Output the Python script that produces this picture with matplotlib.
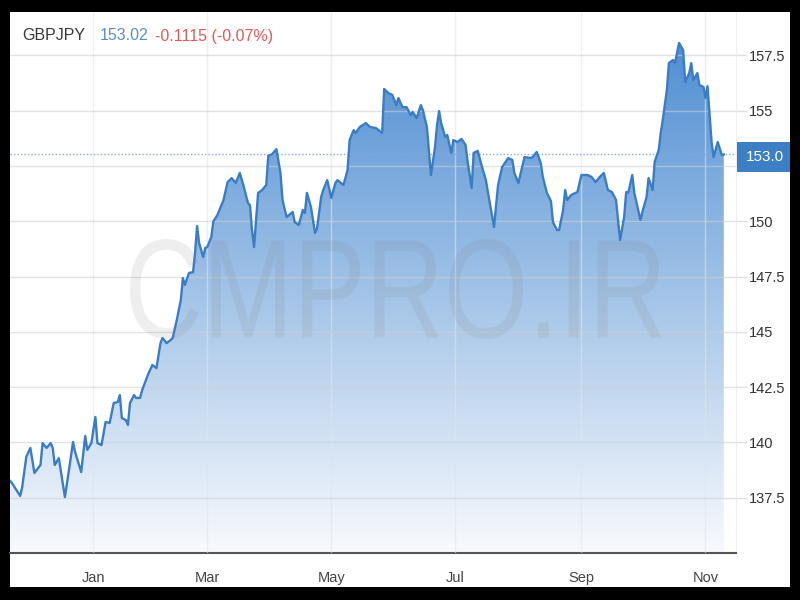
import numpy as np
import pandas as pd
import matplotlib
matplotlib.use('Agg')
import matplotlib.pyplot as plt
import matplotlib.dates as mdates
from matplotlib.patches import Rectangle, Polygon, PathPatch
from matplotlib.textpath import TextPath
from matplotlib.font_manager import FontProperties
from matplotlib.transforms import Affine2D, IdentityTransform

plt.rcParams['font.family'] = ['Liberation Sans', 'DejaVu Sans']

# data (days counted from start)
symbol = 'GBPJPY'
start = pd.Timestamp('2020-11-24')
last_price = 153.02
change = -0.1115
change_pct = -0.07

day_offsets = [
    0, 1, 5, 6, 8, 10, 12, 15, 16, 18, 20, 21, 22, 24, 27, 29, 31, 32, 35, 37,
    38, 40, 42, 43, 45, 47, 49, 51, 53, 54, 55, 57, 58, 59, 61, 62, 64, 65, 68, 70,
    72, 74, 75, 77, 79, 80, 82, 84, 85, 86, 88, 90, 91, 92, 93, 95, 96, 97, 99, 100,
    102, 105, 107, 109, 111, 113, 115, 117, 118, 119, 120, 122, 124, 126, 127, 129, 131, 133, 134, 136,
    139, 140, 142, 144, 145, 146, 148, 150, 151, 153, 154, 156, 158, 160, 161, 164, 166, 167, 169, 170,
    172, 175, 177, 180, 183, 184, 186, 188, 190, 191, 193, 195, 197, 198, 200, 202, 203, 205, 207, 209,
    210, 211, 212, 214, 215, 217, 218, 220, 222, 224, 225, 227, 228, 230, 232, 234, 235, 238, 240, 242,
    245, 247, 248, 250, 253, 256, 257, 259, 261, 262, 264, 266, 267, 269, 270, 272, 273, 274, 276, 279,
    281, 284, 286, 288, 290, 292, 294, 296, 298, 299, 300, 302, 303, 304, 306, 307, 310, 311, 313, 314,
    316, 317, 319, 320, 321, 323, 324, 326, 327, 329, 331, 332, 334, 335, 336, 338, 339, 341, 342, 343,
    345, 346, 348, 350, 351,
]
closes = [
    138.26, 138.16, 137.58, 137.98, 139.34, 139.75, 138.62, 138.98, 139.97, 139.75,
    139.97, 139.75, 138.98, 139.29, 137.53, 138.75, 140.02, 139.57, 138.66, 140.29,
    139.66, 139.97, 141.15, 139.97, 139.88, 140.92, 140.88, 141.78, 141.83, 142.14,
    141.10, 141.01, 140.79, 141.78, 142.14, 142.01, 142.01, 142.37, 143.10, 143.50,
    143.36, 144.49, 144.72, 144.49, 144.63, 144.72, 145.53, 146.44, 147.43, 147.12,
    147.66, 147.70, 148.56, 149.78, 149.02, 148.38, 148.79, 148.83, 149.29, 150.00,
    150.28, 150.96, 151.77, 151.95, 151.73, 152.18, 151.55, 150.82, 150.73, 149.60,
    148.83, 151.28, 151.41, 151.64, 152.95, 153.04, 153.26, 152.18, 150.96, 150.19,
    150.42, 149.96, 149.83, 150.51, 150.37, 151.28, 150.64, 149.47, 149.69, 151.09,
    151.41, 151.86, 151.05, 151.73, 151.86, 151.64, 152.32, 153.67, 154.12, 153.99,
    154.26, 154.44, 154.26, 154.21, 153.99, 155.98, 155.80, 155.71, 155.25, 155.57,
    155.16, 155.16, 154.80, 154.94, 154.67, 155.25, 155.03, 154.26, 152.09, 153.36,
    154.35, 154.98, 154.44, 153.81, 153.90, 153.09, 153.67, 153.58, 153.72, 153.45,
    152.72, 151.50, 153.09, 153.18, 152.49, 151.86, 151.32, 149.74, 151.64, 152.45,
    152.86, 152.77, 152.18, 151.73, 152.90, 152.86, 152.90, 153.13, 152.63, 152.00,
    151.28, 150.91, 149.96, 149.60, 149.60, 150.51, 151.41, 150.96, 151.19, 151.32,
    152.09, 152.09, 152.00, 151.77, 152.00, 152.18, 151.41, 151.32, 150.96, 150.06,
    149.15, 150.19, 151.32, 151.28, 152.09, 151.28, 150.06, 150.42, 151.09, 151.95,
    151.41, 152.68, 153.22, 153.99, 154.58, 155.93, 157.15, 157.29, 157.15, 158.06,
    157.74, 156.29, 156.70, 157.15, 156.38, 156.70, 156.16, 156.07, 155.57, 156.11,
    153.58, 152.90, 153.58, 153.00, 153.02,
]

y_ticks = [137.5, 140, 142.5, 145, 147.5, 150, 152.5, 155, 157.5]
y_labels = ['137.5', '140', '142.5', '145', '147.5', '150', '', '155', '157.5']
month_ticks = ['2021-01-04', '2021-03-01', '2021-05-01', '2021-07-01', '2021-09-01', '2021-11-01']
month_labels = ['Jan', 'Mar', 'May', 'Jul', 'Sep', 'Nov']

dates = start + pd.to_timedelta(day_offsets, unit='D')
x = mdates.date2num(dates)
y = np.array(closes)
ymin, ymax = 135, 159.46
xmin = mdates.date2num(start)
xmax = mdates.date2num(start + pd.Timedelta(days=357))

fig = plt.figure(figsize=(8, 6), dpi=100, facecolor='black')
fig.patches.append(Rectangle((10/800, 13/600), 780/800, 575/600, transform=fig.transFigure,
                             facecolor='white', edgecolor='none', zorder=-1))

ax = fig.add_axes([10/800, 47/600, 726/800, 541/600])
ax.set_facecolor('white')

# gradient fill under the curve
grad = np.linspace(0, 1, 256)[:, None, None]
top = np.array([70, 136, 208]) / 255
bot = np.array([248, 250, 253]) / 255
img = bot + (top - bot) * grad
im = ax.imshow(img, extent=[x[0], x[-1], ymin, ymax], origin='lower', aspect='auto', zorder=1)
poly = Polygon(np.column_stack([np.r_[x[0], x, x[-1]], np.r_[ymin, y, ymin]]), closed=True,
               facecolor='none', edgecolor='none', transform=ax.transData)
ax.add_patch(poly)
im.set_clip_path(poly)

ax.plot(x, y, color='#3b7dc4', lw=1.7, zorder=3)
ax.axhline(last_price, color='#86a9d6', lw=1, ls=(0, (1, 1.5)), zorder=2.8)

ax.set_xlim(xmin, xmax)
ax.set_ylim(ymin, ymax)

ax.set_xticks(mdates.date2num(pd.to_datetime(month_ticks)))
ax.set_xticklabels(month_labels)
ax.set_yticks(y_ticks)
ax.set_yticklabels(y_labels)
ax.yaxis.tick_right()
ax.set_axisbelow(False)
ax.grid(axis='y', color='#cfcfcf', alpha=0.6, lw=1, zorder=2.5)
ax.grid(axis='x', color='#e4e4e4', alpha=0.6, lw=1, zorder=2.5)

ax.tick_params(axis='x', length=0, pad=13, labelsize=10.5, labelcolor='#444444')
ax.tick_params(axis='y', length=8, width=1, color='#e0e0e0', pad=1, labelsize=10.5, labelcolor='#333333')

for s in ['top', 'left']:
    ax.spines[s].set_visible(False)
ax.spines['right'].set_color('#eeeeee')
ax.spines['bottom'].set_color('#555555')
ax.spines['bottom'].set_linewidth(1.5)

# header
ty = 1 - 36/600
fig.text(22/800, ty, symbol, fontsize=11.5, color='#3a3a3a', va='center')
fig.text(100/800, ty, f'{last_price:.2f}', fontsize=11.5, color='#5b8fc8', va='center')
fig.text(155/800, ty, f'{change:.4f} ({change_pct:.2f}%)', fontsize=11.5, color='#e05a5a', va='center')

# last price box
fig.patches.append(Rectangle((737/800, (600-172)/600), 53/800, 30/600, transform=fig.transFigure,
                             facecolor='#3d7fc4', edgecolor='none', zorder=5))
fig.text(765/800, 1 - 157/600, f'{last_price:.1f}', fontsize=11, color='white',
         ha='center', va='center', zorder=6)

# watermark, squeezed into its box (pixels)
tp = TextPath((0, 0), 'CMPRO.IR', size=100, prop=FontProperties(family='Liberation Sans'))
bb = tp.get_extents()
wm_tr = Affine2D().translate(-bb.x0, -bb.y0).scale(532 / bb.width, 100 / bb.height).translate(130, 261)
fig.patches.append(PathPatch(wm_tr.transform_path(tp), transform=IdentityTransform(),
                             facecolor='#808080', edgecolor='none', alpha=0.13, zorder=4))

fig.savefig('out.png', dpi=100, facecolor='black')
